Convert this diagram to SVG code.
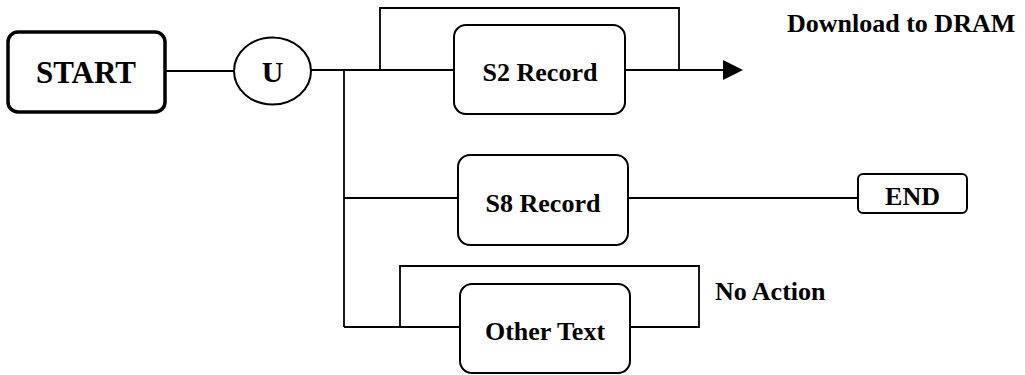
<svg xmlns="http://www.w3.org/2000/svg" width="1025" height="375" viewBox="0 0 1025 375">
<defs>
<style>
.box{fill:#fff;stroke:#000;stroke-width:2}
.lbl{font-family:"Liberation Serif","Times New Roman",serif;font-weight:bold;fill:#000;text-anchor:middle;font-size:26px}
.free{font-family:"Liberation Serif","Times New Roman",serif;font-weight:bold;fill:#000;font-size:26px}
.wire{fill:none;stroke:#000;stroke-width:1.8}
</style>
</defs>
<rect width="1025" height="375" fill="#fff"/>
<g id="connectors">
<line class="wire" x1="165" y1="71" x2="234" y2="71"/>
<line class="wire" x1="311" y1="70" x2="454" y2="70"/>
<line class="wire" x1="344" y1="70" x2="344" y2="327"/>
<path class="wire" d="M380,70 V8 H679 V70"/>
<line class="wire" x1="625" y1="70" x2="723" y2="70"/>
<path d="M723,60 L743,70 L723,80 Z" fill="#000"/>
<line class="wire" x1="344" y1="198" x2="458" y2="198"/>
<line class="wire" x1="628" y1="198" x2="858" y2="198"/>
<line class="wire" x1="344" y1="327" x2="460" y2="327"/>
<path class="wire" d="M400,327 V266 H699 V327 H630"/>
</g>
<g id="start">
<rect x="8" y="32" width="157" height="80" rx="10" fill="#fff" stroke="#000" stroke-width="3.5"/>
<text class="lbl" x="86" y="83" style="font-size:31px">START</text>
</g>
<g id="u">
<ellipse cx="272.5" cy="71" rx="38.5" ry="33.5" class="box" stroke-width="1.6"/>
<text class="lbl" x="272.5" y="82" style="font-size:30px">U</text>
</g>
<g id="s2">
<rect class="box" x="454" y="25" width="171" height="89" rx="12"/>
<text class="lbl" x="540" y="81">S2 Record</text>
</g>
<g id="s8">
<rect class="box" x="458" y="155" width="170" height="90" rx="12"/>
<text class="lbl" x="543" y="212">S8 Record</text>
</g>
<g id="other">
<rect class="box" x="460" y="284" width="170" height="89" rx="12"/>
<text class="lbl" x="545" y="340">Other Text</text>
</g>
<g id="end">
<rect class="box" x="858" y="174" width="109" height="39" rx="5"/>
<text class="lbl" x="912.5" y="205">END</text>
</g>
<text class="free" x="787" y="32">Download to DRAM</text>
<text class="free" x="715" y="300">No Action</text>
</svg>
